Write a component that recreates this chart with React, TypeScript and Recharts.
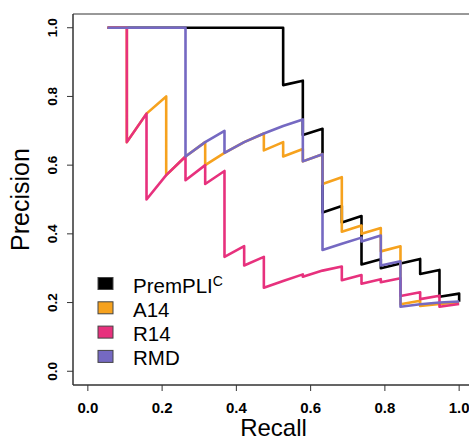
import { LineChart, Line, XAxis, YAxis, ReferenceArea, Legend, Label } from "recharts";

const seriesNames = ["PremPLI", "A14", "R14", "RMD"];
const seriesColors = ["#000000", "#F6A21E", "#E7317D", "#7569C2"];
const axisTicks = [0, 0.2, 0.4, 0.6, 0.8, 1.0];

const premRecall = [0.053, 0.526, 0.526, 0.579, 0.579, 0.632, 0.632, 0.684, 0.684, 0.737, 0.737, 0.789, 0.789, 0.842, 0.895, 0.895, 0.947, 0.947, 1.0, 1.0];
const premPrecision = [1.0, 1.0, 0.833, 0.846, 0.688, 0.706, 0.462, 0.481, 0.433, 0.452, 0.311, 0.326, 0.3, 0.314, 0.327, 0.283, 0.295, 0.217, 0.226, 0.202];

const a14Recall = [0.053, 0.105, 0.105, 0.158, 0.211, 0.211, 0.263, 0.316, 0.316, 0.368, 0.421, 0.474, 0.474, 0.526, 0.526, 0.579, 0.579, 0.632, 0.632, 0.684, 0.684, 0.737, 0.737, 0.789, 0.789, 0.842, 0.842, 0.895, 0.895, 0.947, 1.0];
const a14Precision = [1.0, 1.0, 0.667, 0.75, 0.8, 0.571, 0.625, 0.667, 0.6, 0.636, 0.667, 0.692, 0.643, 0.667, 0.625, 0.647, 0.611, 0.632, 0.545, 0.565, 0.406, 0.424, 0.4, 0.417, 0.349, 0.364, 0.195, 0.205, 0.19, 0.196, 0.2];

const r14Recall = [0.053, 0.105, 0.105, 0.158, 0.158, 0.211, 0.263, 0.263, 0.316, 0.316, 0.368, 0.368, 0.421, 0.421, 0.474, 0.474, 0.526, 0.579, 0.579, 0.632, 0.684, 0.684, 0.737, 0.737, 0.789, 0.789, 0.842, 0.842, 0.895, 0.895, 0.947, 0.947, 1.0];
const r14Precision = [1.0, 1.0, 0.667, 0.75, 0.5, 0.571, 0.625, 0.556, 0.6, 0.545, 0.583, 0.333, 0.364, 0.308, 0.333, 0.243, 0.263, 0.282, 0.275, 0.293, 0.305, 0.265, 0.28, 0.255, 0.268, 0.259, 0.271, 0.219, 0.23, 0.21, 0.22, 0.188, 0.196];

const rmdRecall = [0.053, 0.263, 0.263, 0.316, 0.368, 0.368, 0.421, 0.474, 0.526, 0.579, 0.579, 0.632, 0.632, 0.684, 0.737, 0.737, 0.789, 0.789, 0.842, 0.842, 0.895, 0.947, 1.0];
const rmdPrecision = [1.0, 1.0, 0.625, 0.667, 0.7, 0.636, 0.667, 0.692, 0.714, 0.733, 0.611, 0.632, 0.353, 0.371, 0.389, 0.378, 0.395, 0.308, 0.32, 0.188, 0.195, 0.2, 0.203];

const zip = (r: number[], p: number[]) => r.map((v, i) => ({ recall: v, precision: p[i] }));
const seriesData = [
  zip(premRecall, premPrecision),
  zip(a14Recall, a14Precision),
  zip(r14Recall, r14Precision),
  zip(rmdRecall, rmdPrecision),
];

const FONT = '"Liberation Sans", Arial, Helvetica, sans-serif';
const AXIS_COLOR = "#333";

function YTick({ x, y, payload }: { x?: number; y?: number; payload?: { value: number } }) {
  if (x == null || y == null || !payload) return null;
  return (
    <text
      x={x}
      y={y}
      transform={`rotate(-90 ${x} ${y})`}
      textAnchor="middle"
      fontSize={13.5}
      fontWeight="bold"
      fill="#000"
    >
      {payload.value.toFixed(1)}
    </text>
  );
}

function LegendBox() {
  return (
    <svg width={160} height={100} style={{ display: "block", overflow: "visible" }}>
      {seriesNames.map((name, i) => {
        const cy = 13.5 + i * 24.3;
        return (
          <g key={name}>
            <rect x={0} y={cy - 6} width={15} height={12} fill={seriesColors[i]} stroke="#444" strokeWidth={1} />
            <text x={35} y={cy + 9} fontSize={20.5} fill="#000" fontFamily={FONT}>
              {name}
              {i === 0 && (
                <tspan dy={-7} fontSize={14}>
                  C
                </tspan>
              )}
            </text>
          </g>
        );
      })}
    </svg>
  );
}

export default function App() {
  return (
    <div
      style={{
        position: "fixed",
        left: 0,
        top: 0,
        width: 469,
        height: 440,
        overflow: "hidden",
        background: "#fff",
        fontFamily: FONT,
      }}
    >
      <LineChart width={490} height={440} margin={{ top: 14, right: 16, bottom: 0, left: 0 }}>
        <ReferenceArea
          x1={-0.04}
          x2={1.04}
          y1={-0.04}
          y2={1.04}
          fill="none"
          stroke={AXIS_COLOR}
          strokeWidth={1}
          ifOverflow="visible"
        />
        <XAxis
          dataKey="recall"
          type="number"
          domain={[-0.04, 1.04]}
          ticks={axisTicks}
          allowDataOverflow
          height={55}
          tickSize={6}
          tickMargin={11}
          tickFormatter={(v: number) => v.toFixed(1)}
          tick={{ fill: "#000", fontSize: 15, fontWeight: "bold" }}
          stroke={AXIS_COLOR}
        >
          <Label value="Recall" position="insideBottom" offset={4} fill="#000" fontSize={24} />
        </XAxis>
        <YAxis
          dataKey="precision"
          type="number"
          domain={[-0.04, 1.04]}
          ticks={axisTicks}
          allowDataOverflow
          width={73}
          tickSize={6}
          tickMargin={10}
          tick={<YTick />}
          stroke={AXIS_COLOR}
        >
          <Label
            value="Precision"
            angle={-90}
            position="insideLeft"
            offset={20}
            fill="#000"
            fontSize={25}
            style={{ textAnchor: "middle" }}
          />
        </YAxis>
        {seriesData.map((d, i) => (
          <Line
            key={seriesNames[i]}
            data={d}
            dataKey="precision"
            name={seriesNames[i]}
            type="linear"
            stroke={seriesColors[i]}
            strokeWidth={2.6}
            strokeLinejoin="round"
            dot={false}
            activeDot={false}
            isAnimationActive={false}
          />
        ))}
        <Legend
          layout="vertical"
          align="center"
          verticalAlign="middle"
          content={() => <LegendBox />}
          wrapperStyle={{ left: 98, top: 270, width: 160, height: 100 }}
        />
      </LineChart>
    </div>
  );
}
